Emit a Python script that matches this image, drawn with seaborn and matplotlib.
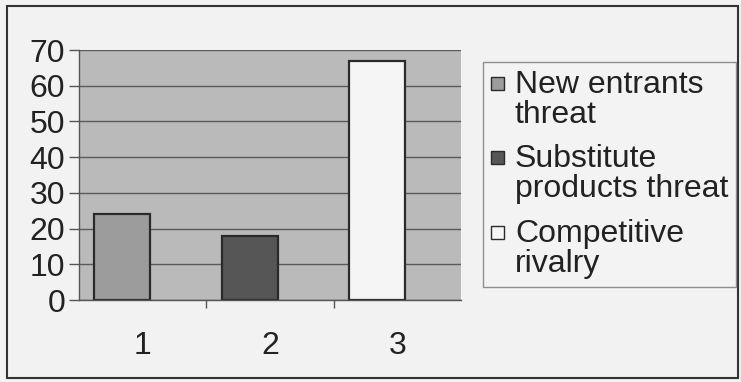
import matplotlib
matplotlib.use("Agg")
import matplotlib.pyplot as plt
from matplotlib.patches import Rectangle
from matplotlib.legend_handler import HandlerPatch
import seaborn as sns
import pandas as pd

categories = ["1", "2", "3"]
series = ["New entrants\nthreat", "Substitute\nproducts threat", "Competitive\nrivalry"]
values = [24, 18, 67]
colors = ["#9c9c9c", "#565656", "#f5f5f5"]
y_ticks = [0, 10, 20, 30, 40, 50, 60, 70]

sns.set_style("white")
plt.rcParams["font.family"] = ["Liberation Sans", "DejaVu Sans"]

df = pd.DataFrame({"category": categories, "series": series, "value": values})

fig = plt.figure(figsize=(7.41, 3.82), dpi=100)
fig.patch.set_facecolor("#f2f2f2")
ax = fig.add_axes([79 / 741, 1 - 300 / 382, (461 - 79) / 741, (300 - 50) / 382])
ax.set_facecolor("#bababa")

sns.barplot(data=df, x="category", y="value", hue="series", dodge=False,
            palette=colors, width=0.44, edgecolor="#2a2a2a", linewidth=1.6,
            ax=ax, legend=True)

# bars sit toward the left of each category slot
ax.set_xlim(-0.34, 2.66)
ax.set_ylim(0, 70)
ax.set_yticks(y_ticks)
ax.yaxis.grid(True, color="#5a5a5a", linewidth=1.0)
ax.set_axisbelow(True)
ax.set_xlabel("")
ax.set_ylabel("")
ax.set_xticks([i + 0.16 for i in range(len(categories))], categories)
ax.set_xticks([0.66, 1.66], minor=True)

for side in ["top", "right"]:
    ax.spines[side].set_visible(False)
for side in ["left", "bottom"]:
    ax.spines[side].set_color("#555555")
    ax.spines[side].set_linewidth(1.0)

ax.tick_params(axis="y", which="major", left=True, length=7, width=1.0,
               color="#555555", labelsize=23, pad=3, labelcolor="#222222")
ax.tick_params(axis="x", which="major", bottom=False, labelsize=23,
               pad=19, labelcolor="#222222")
ax.tick_params(axis="x", which="minor", bottom=True, length=6, width=1.0,
               color="#555555")


def top_square(legend, orig_handle, xdescent, ydescent, width, height, fontsize):
    # small swatch aligned with the first line of a two-line label
    size = 0.4 * fontsize
    return Rectangle((-xdescent, -ydescent + height - size + 0.02 * fontsize),
                     size, size)


handles, labels = ax.get_legend_handles_labels()
ax.legend_.remove()
leg = fig.legend(handles, labels, loc="upper left",
                 bbox_to_anchor=(483 / 741, 1 - 62 / 382),
                 fontsize=23, frameon=True, fancybox=False,
                 handlelength=0.45, handleheight=1.9, handletextpad=0.3,
                 labelspacing=0.45, borderpad=0.25, borderaxespad=0,
                 handler_map={h: HandlerPatch(patch_func=top_square) for h in handles})
leg.get_frame().set_edgecolor("#777777")
leg.get_frame().set_facecolor("#f4f4f4")
leg.get_frame().set_linewidth(1.0)
for t in leg.get_texts():
    t.set_color("#222222")
    t.set_linespacing(1.0)
for p in leg.get_patches():
    p.set_linewidth(1.0)

fig.patches.append(Rectangle((7 / 741, 4 / 382), 731 / 741, 372 / 382,
                             transform=fig.transFigure, fill=False,
                             edgecolor="#333333", linewidth=1.5))

fig.savefig("out.png", dpi=100, facecolor=fig.get_facecolor())
